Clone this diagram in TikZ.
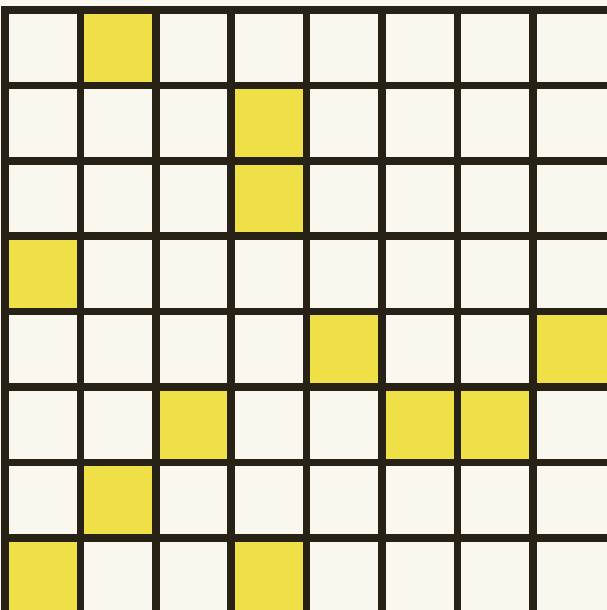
\documentclass[tikz,border=0pt]{standalone}
\definecolor{paper}{RGB}{249,247,238}
\definecolor{cellyellow}{RGB}{240,224,72}
\definecolor{ink}{RGB}{40,34,22}
\begin{document}
\begin{tikzpicture}[x=1pt,y=-1pt,
  gridline/.style={draw=ink,line width=7.5pt},
  yellowcell/.style={fill=cellyellow}]
\fill[paper] (0,0) rectangle (607,610);
\useasboundingbox (0,0) rectangle (607,610);
\def\dx{75.4}
\foreach \r/\c in {0/1,1/3,2/3,3/0,4/4,4/7,5/2,5/5,5/6,6/1,7/0,7/3}{
  \fill[yellowcell] ({5+\c*\dx},{10+\r*\dx}) rectangle ({5+(\c+1)*\dx},{10+(\r+1)*\dx});
}
\foreach \i in {0,...,7}{
  \draw[gridline] ({5+\i*\dx},{6.25}) -- ({5+\i*\dx},610);
  \draw[gridline] (1.25,{10+\i*\dx}) -- (607,{10+\i*\dx});
}
\end{tikzpicture}
\end{document}
